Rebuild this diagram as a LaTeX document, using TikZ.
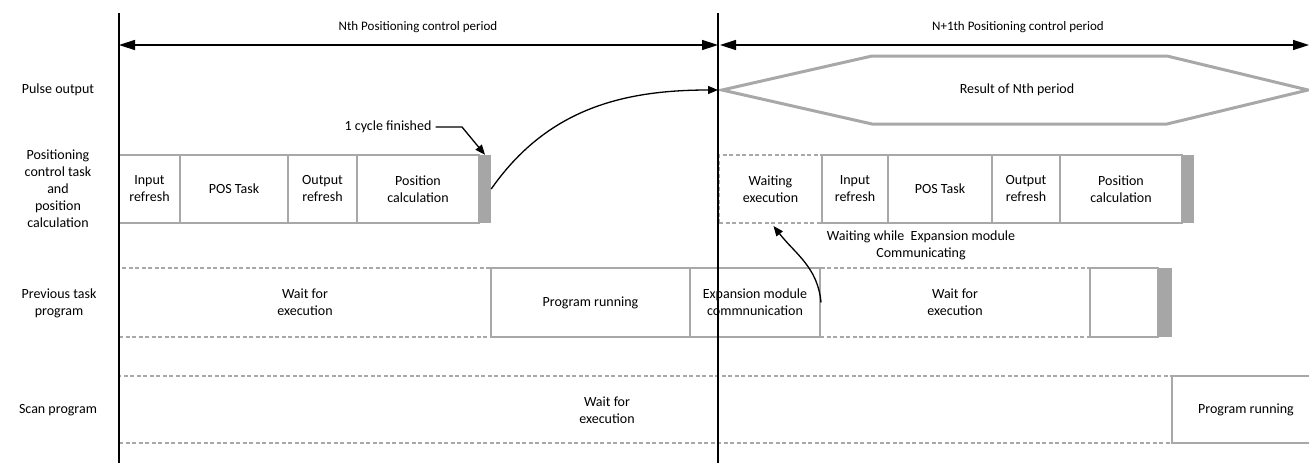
\documentclass[tikz,border=0pt]{standalone}
\usepackage{fontspec}
\setmainfont{Carlito}
\usepackage{tikz}
\usetikzlibrary{
  arrows.meta,
  positioning
}
\definecolor{cycGray}{HTML}{A8A8A8}
\definecolor{cycBar}{HTML}{A6A6A6}
\definecolor{cycInk}{HTML}{000000}
\newcommand{\rowFont}{\fontsize{14}{17}\selectfont}
\newcommand{\periodFont}{\fontsize{13}{16}\selectfont}
\tikzset{
  taskBox/.style={
    draw=cycGray,
    line width=2pt,
    minimum height=68pt,
    inner sep=0pt,
    align=center,
    font=\rowFont
  },
  waitBox/.style={
    taskBox,
    dash pattern=on 4pt off 2.5pt
  },
  doneBar/.style={
    fill=cycBar,
    draw=none,
    minimum height=68pt,
    minimum width=12pt,
    inner sep=0pt
  },
  rowLabel/.style={font=\rowFont, align=center, inner sep=0pt},
  periodArrow/.style={
    {Triangle[length=16pt,width=10pt]}-{Triangle[length=16pt,width=10pt]},
    line width=1.5pt, cycInk
  },
  timeLine/.style={line width=1.5pt, cycInk},
  flowArrow/.style={-{Triangle[length=10pt,width=8pt]}, line width=1.3pt, cycInk}
}

\begin{document}
\begin{tikzpicture}[x=1pt,y=-1pt]
  \useasboundingbox (0,0) rectangle (1309,463);

  % period boundaries
  \coordinate (nTop) at (119,13);
  \coordinate (nBot) at (119,463);
  \coordinate (mTop) at (718,13);
  \coordinate (mBot) at (718,463);
  \coordinate (nL) at (119,45);
  \coordinate (nR) at (718,45);
  \coordinate (mL) at (720,45);
  \coordinate (mR) at (1309,45);

  \node[font=\periodFont] (nTitle) at (418,27) {Nth Positioning control period};
  \node[font=\periodFont] (mTitle) at (1018,27) {N+1th Positioning control period};

  % row labels
  \node[rowLabel] (lPulse) at (58,90) {Pulse output};
  \node[rowLabel] (lPos) at (58,189)
    {Positioning\\control task\\and\\position\\calculation};
  \node[rowLabel] (lPrev) at (59,303) {Previous task\\program};
  \node[rowLabel] (lScan) at (58,410) {Scan program};

  % pulse output
  \draw[cycGray, line width=3pt, line join=miter]
    (722,90) -- (872,56) -- (1167,56) -- (1308,90) -- (1167,124) -- (872,124) -- cycle;
  \node[rowLabel] (result) at (1017,90) {Result of Nth period};
  \coordinate (pulseIn) at (718,90);

  % positioning control task, Nth period
  \node[taskBox, minimum width=61pt] (inA) at (149.5,189) {Input\\refresh};
  \node[taskBox, minimum width=108pt] (posA) at (234,189) {POS Task};
  \node[taskBox, minimum width=69pt] (outA) at (322.5,189) {Output\\refresh};
  \node[taskBox, minimum width=122pt] (calcA) at (418,189) {Position\\calculation};
  \node[doneBar] (barA) at (485,189) {};

  % positioning control task, N+1th period
  \node[waitBox, minimum width=103pt] (waitB) at (770.5,189) {Waiting\\execution};
  \node[taskBox, minimum width=66pt] (inB) at (855,189) {Input\\refresh};
  \node[taskBox, minimum width=104pt] (posB) at (940,189) {POS Task};
  \node[taskBox, minimum width=68pt] (outB) at (1026,189) {Output\\refresh};
  \node[taskBox, minimum width=122pt] (calcB) at (1121,189) {Position\\calculation};
  \node[doneBar] (barB) at (1188,189) {};

  \node[rowLabel] (cycText) at (388,127) {1 cycle finished};
  \coordinate (cycBend) at (462,127);
  \node[rowLabel] (waitNote) at (921,245)
    {Waiting while\ \ Expansion module\\Communicating};

  % previous task program
  \node[waitBox, minimum width=372pt, minimum height=69pt] (prevWait) at (305,302.5) {Wait for\\execution};
  \node[taskBox, minimum width=199pt, minimum height=69pt] (prevRun) at (590.5,302.5) {Program running};
  \node[taskBox, minimum width=130pt, minimum height=69pt] (expm) at (755,302.5)
    {Expansion module\\commnunication};
  \node[taskBox, minimum width=68pt, minimum height=69pt] (prevEnd) at (1124,302.5) {};
  \node[waitBox, minimum width=270pt, minimum height=69pt] (prevWait2) at (955,302.5) {Wait for\\execution};
  \node[doneBar, minimum width=14pt, minimum height=69pt] (barC) at (1165,302.5) {};

  % scan program
  \node[waitBox, minimum width=1053pt, minimum height=67pt] (scanWait) at (645.5,409.5) {};
  \node[rowLabel] (scanWaitTxt) at (607,410) {Wait for\\execution};
  \node[taskBox, minimum width=148pt, minimum height=67pt] (scanRun) at (1246,409.5) {Program running};

  % time lines and periods
  \draw[timeLine] (nTop) -- (nBot);
  \draw[timeLine] (mTop) -- (mBot);
  \draw[periodArrow] (nL) -- (nR);
  \draw[periodArrow] (mL) -- (mR);

  % connectors
  \draw[line width=1.3pt, -{Triangle[length=10pt,width=8pt]}]
    (cycText.east) ++(4,0) -- (cycBend) -- (barA.north);
  \draw[flowArrow] (barA.east) to[out=55,in=180] (pulseIn);
  \draw[flowArrow] (expm.east) to[out=95,in=-52] ([xshift=3pt,yshift=-2pt]waitB.south);
\end{tikzpicture}
\end{document}
